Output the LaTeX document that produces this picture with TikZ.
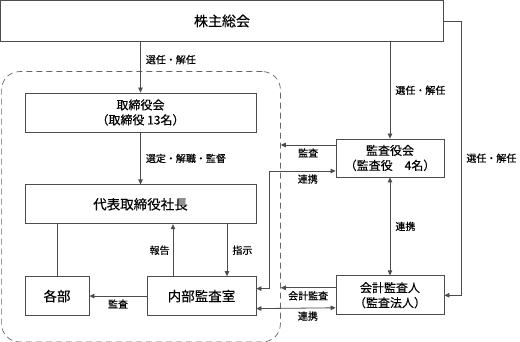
\documentclass[tikz,border=0pt]{standalone}
\usepackage{fontspec}
\setmainfont{Noto Sans CJK JP}[FakeBold=0.3]
\usetikzlibrary{arrows.meta, positioning, fit, calc}

\begin{document}
\begin{tikzpicture}[
  x=1pt, y=-1pt,
  font=\fontsize{10}{12}\selectfont,
  box/.style={draw=black!70, line width=0.8pt, minimum height=39pt, align=center,
              inner sep=0pt, font=\fontsize{13.5}{15}\selectfont},
  twobox/.style={box, font=\fontsize{12}{15}\selectfont},
  group/.style={draw=black!60, line width=0.7pt, dash pattern=on 6pt off 4pt,
                rounded corners=18pt, inner sep=0pt},
  arrow/.style={-{Triangle[length=5pt,width=4.5pt]}, line width=0.8pt, black!70},
  twoway/.style={arrow, {Triangle[length=5pt,width=4.5pt]}-{Triangle[length=5pt,width=4.5pt]}},
  link/.style={line width=0.8pt, black!70},
  lbl/.style={font=\fontsize{10}{12}\selectfont, inner sep=3pt, text=black},
]
\fill[white] (0,0) rectangle (520,342);
\useasboundingbox (0,0) rectangle (520,342);

% Top: shareholders
\node[box, minimum width=443pt, minimum height=41pt, font=\fontsize{14}{16}\selectfont]
  (soukai) at (222,21) {株主総会};

% Left column: board and executives
\node[twobox, minimum width=231pt] (tori) at (140.5,112.5) {取締役会\\（取締役 13名）};
\node[box, minimum width=231pt, below=52pt of tori] (daihyo) {代表取締役社長};
\node[box, minimum width=64pt, below=52pt of daihyo.south west, anchor=north west] (kakubu) {各部};
\node[box, minimum width=109pt, below=52pt of daihyo.south east, anchor=north east] (naibu) {内部監査室};

% Right column: auditors
\node[twobox, minimum width=108pt, minimum height=38pt] (kansayaku) at (390,158) {監査役会\\（監査役　4名）};
\node[twobox, minimum width=108pt, below=98pt of kansayaku] (kaikei) {会計監査人\\（監査法人）};

% Dashed group round the executive side
\node[group, fit={($(tori.north west)+(-23pt,21pt)$) ($(naibu.south east)+(24pt,-26pt)$)}] (group) {};

% Arrows from the top
\draw[arrow] (soukai.south -| tori.north) -- node[lbl, right, pos=0.35, xshift=2pt] {選任・解任} (tori.north);
\draw[arrow] (soukai.south -| kansayaku.north) -- node[lbl, right, xshift=2pt] {選任・解任} (kansayaku.north);
\coordinate (rt) at (461,21);
\draw[arrow] (soukai.east) -- (rt) |- node[lbl, right, pos=0.25, xshift=2pt] {選任・解任} (kaikei.east);

% Inside the group
\draw[arrow] (tori) -- node[lbl, right, xshift=2pt] {選定・解職・監督} (daihyo);
\draw[link] (kakubu.north) -- (kakubu.north |- daihyo.south);
\draw[arrow] ([xshift=-28.5pt]naibu.north) -- node[lbl, left] {報告} ([xshift=-28.5pt]naibu.north |- daihyo.south);
\draw[arrow] ([xshift=25.5pt]naibu.north |- daihyo.south) -- node[lbl, right, xshift=2pt] {指示} ([xshift=25.5pt]naibu.north);
\draw[arrow] (naibu.west) -- node[lbl, below] {監査} (kakubu.east);

% Auditors to the group
\draw[arrow] ([yshift=13pt]kansayaku.west) -- node[lbl, below] {監査} ([yshift=13pt]kansayaku.west -| group.east);
\draw[twoway] ([yshift=7.5pt]naibu.east) -- ++(13pt,0) |- node[lbl, below, pos=0.79] {連携} ([yshift=-13pt]kansayaku.west);
\draw[twoway] (kansayaku) -- node[lbl, right, xshift=2pt] {連携} (kaikei);
\draw[arrow] ([yshift=7.5pt]kaikei.west) -- node[lbl, below] {会計監査} ([yshift=7.5pt]kaikei.west -| group.east);
\draw[twoway] ([yshift=-12.5pt]naibu.east) -- node[lbl, below, pos=0.65] {連携} ([yshift=-12.5pt]kaikei.west);
\end{tikzpicture}
\end{document}
